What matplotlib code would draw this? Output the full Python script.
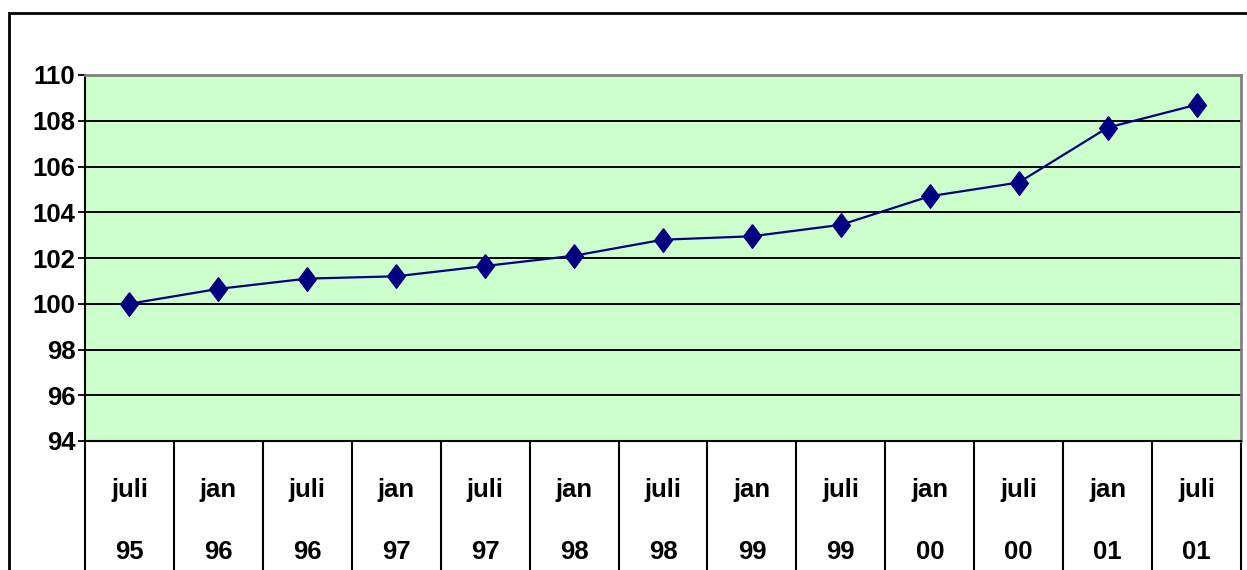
import matplotlib
matplotlib.use("Agg")
import matplotlib.pyplot as plt
from matplotlib.patches import Rectangle
from matplotlib.ticker import MultipleLocator, FixedLocator

months = ["juli", "jan", "juli", "jan", "juli", "jan", "juli", "jan", "juli", "jan", "juli", "jan", "juli"]
years = ["95", "96", "96", "97", "97", "98", "98", "99", "99", "00", "00", "01", "01"]
values = [100.0, 100.65, 101.1, 101.2, 101.65, 102.1, 102.8, 102.95, 103.45, 104.7, 105.3, 107.7, 108.7]

plt.rcParams['font.family'] = ['Liberation Sans', 'DejaVu Sans']

W, H = 1247, 570
fig = plt.figure(figsize=(W / 100, H / 100), dpi=100)
fig.patch.set_facecolor("white")

# outer chart border
fig.patches.append(Rectangle((9 / W, -0.1), 1.2, 1 - 13 / H + 0.1, transform=fig.transFigure,
                             fill=False, edgecolor="black", linewidth=2, zorder=0))

ax = fig.add_axes([85 / W, (H - 441) / H, (1241 - 85) / W, (441 - 75) / H])
ax.set_facecolor("#CCFFCC")

diamond = [(0, 1), (0.75, 0), (0, -1), (-0.75, 0), (0, 1)]
x = list(range(len(values)))
ax.plot(x, values, color="#000080", linewidth=1.6, marker=diamond, markersize=17,
        markerfacecolor="#000080", markeredgecolor="#000080", zorder=3)

ax.set_xlim(-0.5, len(values) - 0.5)
ax.set_ylim(94, 110)
ax.yaxis.set_major_locator(MultipleLocator(2))
ax.grid(axis="y", color="black", linewidth=1.4)
ax.set_axisbelow(True)

for s in ["top", "right"]:
    ax.spines[s].set_color("#808080")
    ax.spines[s].set_linewidth(2)
for s in ["left", "bottom"]:
    ax.spines[s].set_color("black")
    ax.spines[s].set_linewidth(1.5)

ax.tick_params(axis="y", direction="out", length=5, width=1.3, labelsize=18.5, pad=2)
for lbl in ax.get_yticklabels():
    lbl.set_fontweight("bold")

ax.set_xticks(x)
ax.set_xticklabels([f"{m}\n{y}" for m, y in zip(months, years)], fontsize=18.5,
                   fontweight="bold", linespacing=2.95)
ax.tick_params(axis="x", which="major", length=0, pad=27)
ax.xaxis.set_minor_locator(FixedLocator([i - 0.5 for i in range(len(values) + 1)]))
ax.tick_params(axis="x", which="minor", direction="out", length=95, width=1.5, color="black")

fig.savefig("out.png", dpi=100)
